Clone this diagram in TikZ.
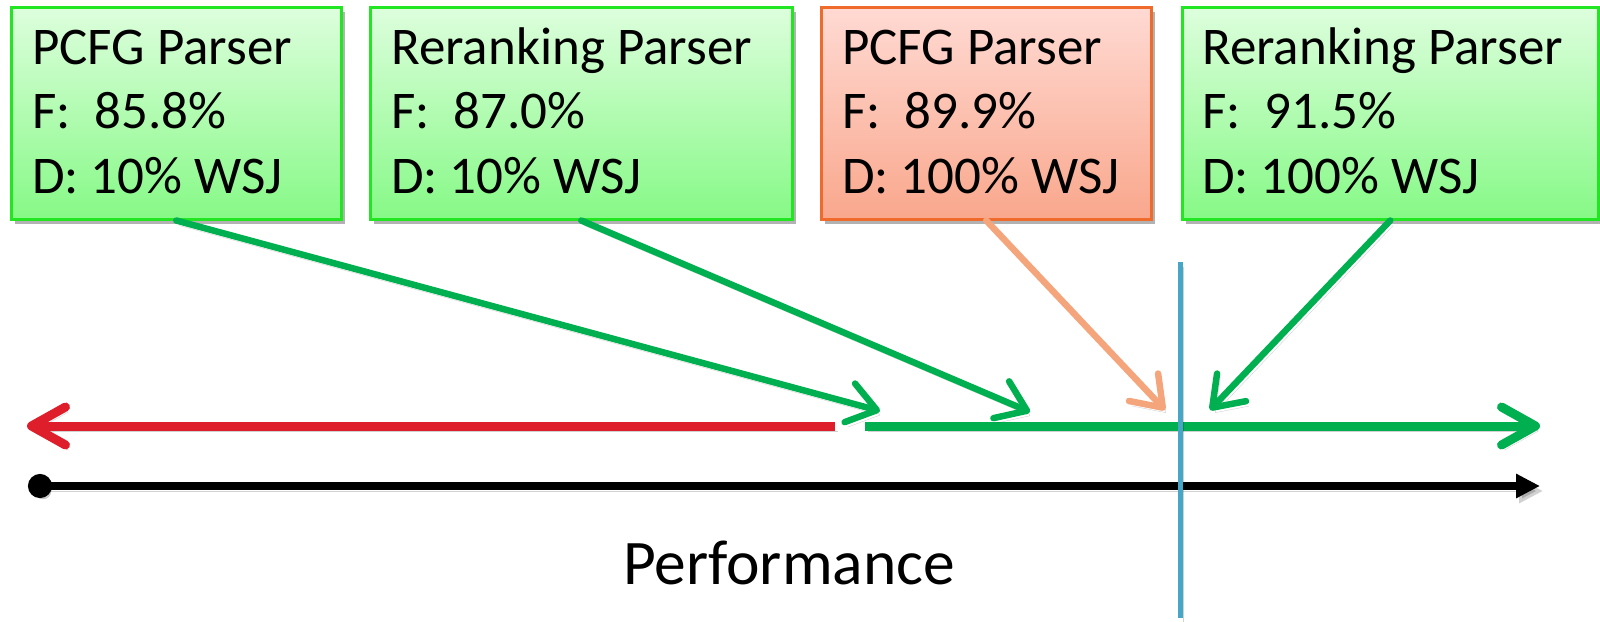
\documentclass[tikz,border=0pt]{standalone}
\usepackage{fontspec}
\setmainfont{Carlito}
\usetikzlibrary{arrows.meta,shadows}
\definecolor{lgreen}{HTML}{00B050}
\definecolor{lred}{HTML}{DE1F2B}
\definecolor{lorange}{HTML}{F4A57B}
\definecolor{lblue}{HTML}{46A6C6}
\definecolor{gborder}{HTML}{22E622}
\definecolor{gtop}{HTML}{DDFEDD}
\definecolor{gbot}{HTML}{86F986}
\definecolor{rborder}{HTML}{EE6B2C}
\definecolor{rtop}{HTML}{FFDAD3}
\definecolor{rbot}{HTML}{F9A78C}
\begin{document}
\begin{tikzpicture}[x=1pt,y=-1pt,
  boxbase/.style={rectangle, line width=2.5pt, inner sep=0pt, anchor=north west,
     minimum height=212pt,
     drop shadow={shadow xshift=4pt, shadow yshift=-5pt, opacity=0.3, fill=black}},
  gbox/.style={boxbase, draw=gborder, top color=gtop, bottom color=gbot},
  rbox/.style={boxbase, draw=rborder, top color=rtop, bottom color=rbot},
  txt/.style={inner sep=0pt, anchor=base west, font=\fontsize{53}{63}\selectfont},
  lshadow/.style={preaction={draw=black, opacity=0.18, transform canvas={shift={(3pt,-5pt)}}}},
  conn/.style={line width=6.5pt, line cap=round, lshadow,
     -{Straight Barb[length=28pt, width=40pt, line cap=round, line join=round]}},
  hline/.style={line width=9pt, lshadow},
  mybarb/.tip={Straight Barb[length=34pt, width=38pt, line cap=round, line join=round]}
]
\useasboundingbox (0,0) rectangle (1600,621);

% boxes
\node[gbox, minimum width=330pt] (b1) at (10,6) {};
\node[gbox, minimum width=422pt] (b2) at (369,6) {};
\node[rbox, minimum width=330pt] (b3) at (820,6) {};
\node[gbox, minimum width=416pt] (b4) at (1181,6) {};

% box texts
\node[txt] (b1a) at (32,64) {PCFG Parser};
\node[txt] (b1b) at (32,128) {F:\ \ 85.8\%};
\node[txt] (b1c) at (32,193) {D: 10\% WSJ};
\node[txt] (b2a) at (391,64) {Reranking Parser};
\node[txt] (b2b) at (391,128) {F:\ \ 87.0\%};
\node[txt] (b2c) at (391,193) {D: 10\% WSJ};
\node[txt] (b3a) at (842,64) {PCFG Parser};
\node[txt] (b3b) at (842,128) {F:\ \ 89.9\%};
\node[txt] (b3c) at (842,193) {D: 100\% WSJ};
\node[txt] (b4a) at (1202,64) {Reranking Parser};
\node[txt] (b4b) at (1202,128) {F:\ \ 91.5\%};
\node[txt] (b4c) at (1202,193) {D: 100\% WSJ};

% coordinates
\coordinate (p1) at (880,411);
\coordinate (p2) at (1030,412);
\coordinate (p3) at (1165,410);
\coordinate (p4) at (1210,410);
\coordinate (rs) at (835,426);
\coordinate (re) at (27,426);
\coordinate (gs) at (865,426);
\coordinate (ge) at (1540,426);
\coordinate (ks) at (28,486);
\coordinate (ke) at (1540,486);
\coordinate (vs) at (1180,262);
\coordinate (ve) at (1180,618);

% horizontal lines
\draw[hline, lred, -mybarb] (rs) -- (re);
\draw[hline, lgreen, -mybarb] (gs) -- (ge);
\draw[line width=8pt, lshadow, black, {Circle[length=24pt]}-{Triangle[length=24pt,width=23pt]}] (ks) -- (ke);

% connectors
\draw[conn, lgreen] (b1.south) -- (p1);
\draw[conn, lgreen] (b2.south) -- (p2);
\draw[conn, lorange] (b3.south) -- (p3);
\draw[conn, lgreen] (b4.south) -- (p4);

% vertical marker
\draw[line width=5pt, lblue, lshadow] (vs) -- (ve);

% axis label
\node[inner sep=0pt, anchor=base, font=\fontsize{63.5}{74}\selectfont] (perf) at (789,584) {Performance};
\end{tikzpicture}
\end{document}
